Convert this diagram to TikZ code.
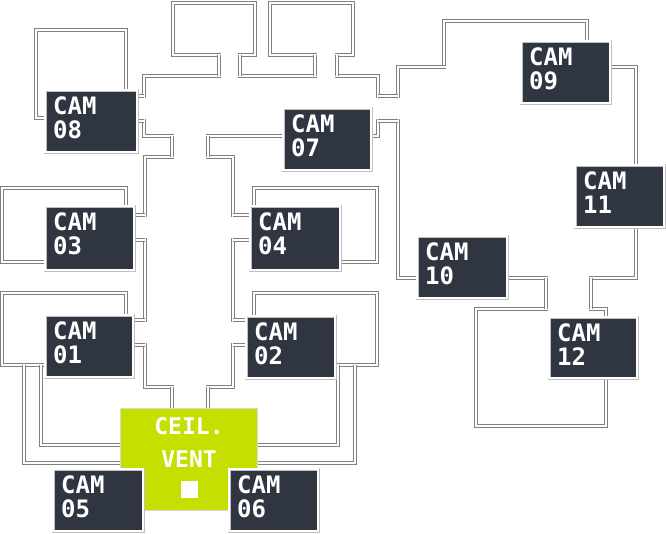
\documentclass[tikz,border=0pt]{standalone}
\usepackage{fontspec}
\newfontfamily\pix{DejaVu Sans Mono}
\usetikzlibrary{calc}
\definecolor{camfill}{HTML}{2F3541}
\definecolor{vent}{HTML}{C4DF00}
\begin{document}
\begin{tikzpicture}[x=1pt,y=-1pt,
 wall/.style={draw=black!50, line width=1pt, double=white, double distance=2.2pt},
 cam/.style={fill=camfill, draw=black!25, line width=0.9pt, double=white, double distance=2pt, inner sep=0pt},
 camtxt/.style={text=white, font=\pix\bfseries\fontsize{24}{24}\selectfont, align=left, inner sep=0pt, anchor=north west},
 opening/.style={fill=white, draw=none}]
\useasboundingbox (0,0) rectangle (666,533);
% rooms
\draw[wall] (36,30) rectangle (126,118);
\draw[wall] (173,3) rectangle (255,55);
\draw[wall] (270,3) rectangle (353,55);
\draw[wall] (144,76) rectangle (378,136);
\draw[wall] (145,157) rectangle (233,387);
\draw[wall] (2,188) rectangle (126,262);
\draw[wall] (254,188) rectangle (377,262);
\draw[wall] (2,293) rectangle (126,365);
\draw[wall] (254,293) rectangle (377,365);
\draw[wall] (444,21) rectangle (587,67);
\draw[wall] (398,67) rectangle (636,278);
\draw[wall] (476,309) rectangle (606,426);
% vertical connectors
\foreach \a/\b/\c/\d in {219/240/55/76, 315/337/55/76, 172/208/136/157, 172/208/387/408, 546/591/278/309}{
  \fill[opening] (\a+2,\c-3) rectangle (\b-2,\d+3);
  \draw[wall] (\a,\c) -- (\a,\d);
  \draw[wall] (\b,\c) -- (\b,\d);}
% horizontal connectors
\foreach \a/\b/\c/\d in {135/144/96/121, 378/398/96/121, 126/145/215/240, 233/254/215/240, 126/145/320/345, 233/254/320/345}{
  \fill[opening] (\a-3,\c+2) rectangle (\b+3,\d-2);
  \draw[wall] (\a,\c) -- (\b,\c);
  \draw[wall] (\a,\d) -- (\b,\d);}
\fill[opening] (444+2,64) rectangle (587-2,70);
% corridors
\draw[wall] (24,365) -- (24,463) -- (122,463);
\draw[wall] (41,365) -- (41,445) -- (122,445);
\draw[wall] (355,365) -- (355,463) -- (256,463);
\draw[wall] (338,365) -- (338,445) -- (256,445);
% vent
\node[fill=vent, draw=black!15, line width=0.8pt, minimum width=137pt, minimum height=102pt, inner sep=0pt] (vent) at (188.5,459) {};
\node[text=white, font=\pix\bfseries\fontsize{23}{33}\selectfont, align=center, anchor=north] (ventt) at (189,414) {CEIL.\\VENT};
\node[fill=white, minimum size=17pt, inner sep=0pt] (vsq) at (189,489) {};
% cameras
\foreach \n/\x/\y/\w/\h in {08/45/90/92/62, 07/283/108/88/62, 03/45/206/89/64, 04/250/206/90/64, 01/45/315/88/62, 02/246/316/89/62, 05/53/469/90/62, 06/229/469/89/62, 09/521/41/89/62, 11/575/165/89/62, 10/417/236/90/62, 12/549/317/88/61}{
  \node[cam, minimum width=\w pt, minimum height=\h pt, anchor=north west] (c\n) at (\x,\y) {};
  \node[camtxt] (t\n) at ($(c\n.north west)+(8,6)$) {CAM\\\n};}
\end{tikzpicture}
\end{document}
